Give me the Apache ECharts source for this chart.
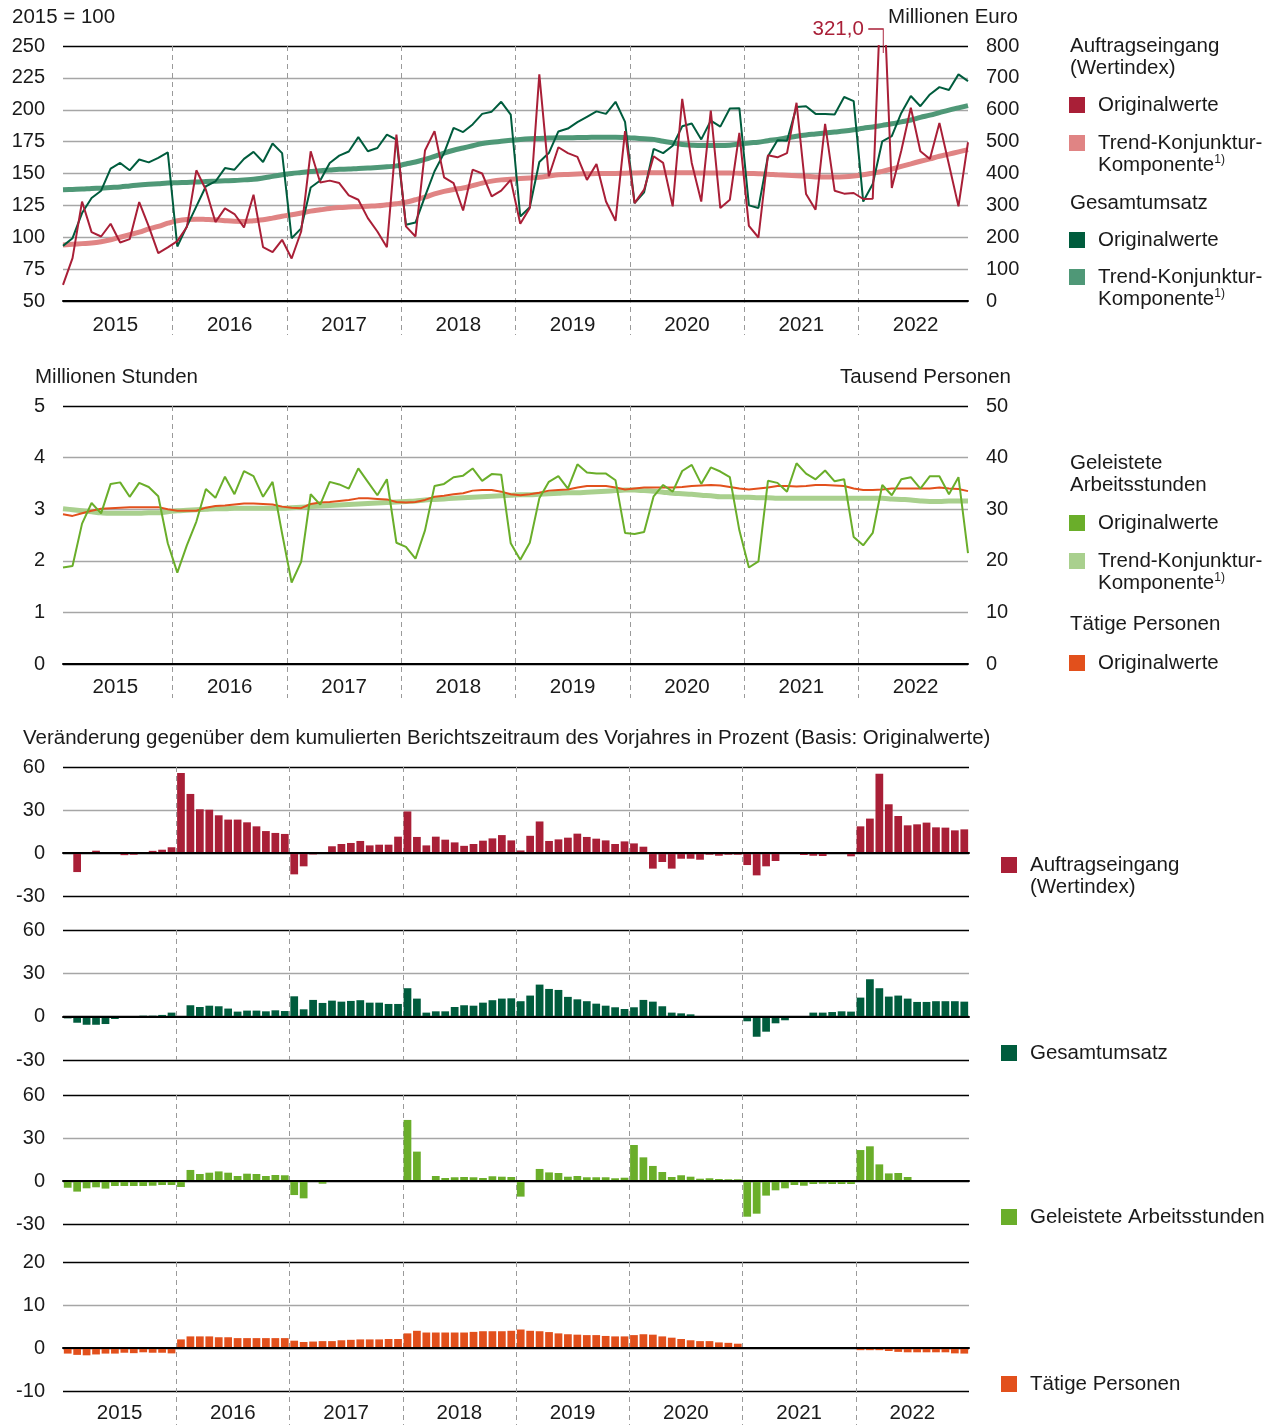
<!DOCTYPE html>
<html>
<head>
<meta charset="utf-8">
<script src="https://cdn.jsdelivr.net/npm/echarts@6.0.0/dist/echarts.min.js"></script>
<style>
  html, body { margin: 0; padding: 0; background: #fff; }
  #chart { width: 1276px; height: 1425px; }
</style>
</head>
<body>
<div id="chart"></div>
<script>
const years = ['2015', '2016', '2017', '2018', '2019', '2020', '2021', '2022']
const months = []
years.forEach(y => { for (let m = 1; m <= 12; m++) months.push(y + '-' + m) })

// Auftragseingang, Wertindex 2015 = 100
const auftragOrig = [
  62.6, 83.6, 128, 104, 100.6, 110.6, 95.9, 98.5, 127.6, 108.5, 87.5, 92,
  97, 108, 152.5, 137.3, 111.9, 122.6, 118.2, 107.7, 133.4, 92.2, 88.3, 98,
  83.3, 104.5, 167.4, 143, 144.4, 142.5, 132.8, 129.4, 115, 104.5, 92.2, 180.5,
  108.5, 100.6, 168, 183.2, 147, 142.5, 121, 153, 150, 132, 136.6, 145,
  110.6, 123, 227.7, 147.8, 170.6, 166, 163, 145, 157.5, 128, 112.9, 183.2,
  126.8, 137.3, 163.5, 158.3, 124.2, 208.6, 158.3, 128, 199.4, 122.9, 129.4, 181.8,
  109, 99.8, 164.3, 162.7, 166, 205.5, 133.9, 121.6, 188.9, 136.5, 134.2, 134.7,
  130, 130.2, 321.0, 138.6, 168, 201.5, 167.4, 161.4, 189.7, 157, 124.2, 174.5
]
const auftragTrend = [
  94, 94.5, 95, 95.5, 96.5, 98, 100, 102, 104, 106.5, 108.5, 111,
  113, 114, 114.2, 114, 113.7, 113, 112.5, 112.4, 113, 113.7, 115, 116.5,
  117.6, 119, 120.5, 121.5, 122.5, 123.3, 123.7, 124, 124.4, 124.7, 125.5, 126.3,
  127.5, 129.4, 131.5, 134, 136, 137.5, 138.6, 140.5, 142.5, 144, 145, 145.5,
  146, 146.5, 147, 148, 149, 149.3, 149.6, 149.8, 150, 150, 150, 150.2,
  150.4, 150.5, 150.5, 150.5, 150.5, 150.5, 150.5, 150.4, 150.4, 150.4, 150.4, 150.2,
  150, 149.8, 149.5, 149, 148.6, 148.2, 147.8, 147.3, 147.2, 147.2, 147.4, 148,
  149, 150.3, 151.7, 153.5, 155.6, 157.6, 159.6, 161.5, 163.5, 165.2, 167, 168.7
]
// Gesamtumsatz, Millionen Euro
const umsatzOrig = [
  173, 197, 276, 323, 346, 415, 433, 410, 444, 435, 449, 466,
  171, 234, 297, 360, 375, 417, 412, 446, 468, 436, 494, 464,
  197, 228, 356, 378, 433, 456, 469, 514, 470, 480, 522, 506,
  239, 246, 328, 407, 464, 543, 530, 554, 587, 594, 625, 585,
  265, 294, 436, 464, 532, 541, 561, 578, 595, 587, 625, 562,
  307, 341, 477, 464, 487, 548, 557, 507, 566, 547, 604, 605,
  300, 292, 454, 504, 503, 609, 611, 587, 587, 585, 640, 627,
  312, 367, 501, 517, 590, 643, 611, 648, 671, 662, 711, 690
]
const umsatzTrend = [
  349, 350, 351, 353, 354, 356, 358, 361, 364, 366, 368, 370,
  371, 372, 373, 375, 376, 377, 378, 380, 382, 386, 391, 396,
  400, 403, 406, 409, 411, 413, 414, 416, 417, 419, 421, 424,
  430, 436, 444, 454, 464, 473, 480, 487, 494, 498, 501, 504,
  507, 509, 510, 511, 512, 512, 513, 513, 514, 514, 514, 513,
  511, 509, 507, 501, 496, 491, 489, 488, 488, 488, 489, 492,
  496, 498, 503, 507, 512, 517, 521, 524, 527, 530, 533, 537,
  542, 546, 551, 556, 562, 568, 576, 583, 591, 599, 606, 613
]
// Geleistete Arbeitsstunden, Millionen Stunden
const stundenOrig = [
  1.87, 1.90, 2.72, 3.12, 2.92, 3.49, 3.52, 3.24, 3.51, 3.43, 3.25, 2.34,
  1.77, 2.30, 2.76, 3.39, 3.22, 3.63, 3.29, 3.74, 3.64, 3.24, 3.53, 2.53,
  1.58, 1.98, 3.29, 3.09, 3.53, 3.48, 3.40, 3.79, 3.53, 3.27, 3.58, 2.35,
  2.27, 2.04, 2.59, 3.45, 3.49, 3.62, 3.65, 3.79, 3.55, 3.68, 3.67, 2.34,
  2.02, 2.35, 3.21, 3.53, 3.64, 3.40, 3.87, 3.71, 3.69, 3.69, 3.56, 2.54,
  2.52, 2.56, 3.25, 3.47, 3.34, 3.74, 3.86, 3.49, 3.81, 3.73, 3.62, 2.59,
  1.87, 1.99, 3.55, 3.51, 3.34, 3.89, 3.69, 3.58, 3.75, 3.54, 3.58, 2.46,
  2.30, 2.54, 3.47, 3.27, 3.58, 3.62, 3.40, 3.64, 3.64, 3.29, 3.62, 2.15
]
const stundenTrend = [
  3.01, 2.99, 2.97, 2.95, 2.93, 2.92, 2.92, 2.92, 2.92, 2.93, 2.93, 2.95,
  2.97, 2.98, 2.99, 3.00, 3.01, 3.01, 3.02, 3.02, 3.02, 3.02, 3.02, 3.02,
  3.03, 3.04, 3.05, 3.06, 3.07, 3.08, 3.09, 3.10, 3.11, 3.12, 3.13, 3.14,
  3.15, 3.16, 3.18, 3.19, 3.20, 3.21, 3.22, 3.23, 3.24, 3.25, 3.26, 3.27,
  3.28, 3.28, 3.29, 3.30, 3.31, 3.32, 3.32, 3.33, 3.34, 3.35, 3.36, 3.37,
  3.37, 3.36, 3.35, 3.33, 3.31, 3.30, 3.29, 3.27, 3.26, 3.24, 3.24, 3.23,
  3.23, 3.22, 3.22, 3.21, 3.21, 3.21, 3.21, 3.21, 3.21, 3.21, 3.21, 3.21,
  3.21, 3.21, 3.21, 3.20, 3.19, 3.18, 3.16, 3.15, 3.15, 3.16, 3.16, 3.16
]
// Tätige Personen, Tausend
const personenOrig = [
  29.0, 28.7, 29.2, 29.7, 30.1, 30.2, 30.3, 30.4, 30.4, 30.4, 30.4, 30.0,
  29.7, 29.7, 29.7, 30.3, 30.6, 30.7, 30.9, 31.1, 31.1, 31.0, 30.9, 30.5,
  30.3, 30.2, 31.0, 31.3, 31.4, 31.6, 31.8, 32.1, 32.1, 32.0, 31.9, 31.4,
  31.3, 31.4, 31.8, 32.4, 32.6, 32.9, 33.1, 33.6, 33.7, 33.7, 33.4, 32.9,
  32.7, 32.9, 33.2, 33.6, 33.7, 33.8, 34.2, 34.5, 34.5, 34.5, 34.2, 33.8,
  34.0, 34.2, 34.2, 34.2, 34.2, 34.3, 34.5, 34.6, 34.7, 34.6, 34.3, 34.0,
  33.8, 34.0, 34.2, 34.5, 34.5, 34.4, 34.5, 34.7, 34.7, 34.6, 34.5, 34.0,
  33.7, 33.7, 33.8, 34.0, 34.0, 34.0, 34.0, 34.0, 34.2, 34.0, 33.9, 33.5
]

// Veränderung gegenüber dem kumulierten Berichtszeitraum des Vorjahres in %
const auftragChange = [
  0, -13.3, 0.5, 1.6, 0, 0, -1.5, -1.2, 0, 1.5, 2.3, 4,
  55.8, 41.2, 30.5, 30.2, 26.3, 23.3, 23.3, 21.4, 18.6, 15.3, 14, 13.3,
  -14.9, -9.3, -1, 0, 4.7, 6.3, 7, 8.4, 5.3, 5.8, 5.8, 11.4,
  29, 11.2, 5.3, 11.4, 9.3, 7.4, 5, 6.3, 8.6, 10.2, 12.5, 8.8,
  1.8, 12, 22, 8.4, 9.5, 10.7, 13.5, 11.2, 10, 8.8, 6.3, 8.1,
  6.7, 4.4, -10.9, -6.3, -10.9, -4, -4, -4.7, -1.2, -1.9, -1.2, -1.2,
  -8.4, -15.6, -9.3, -5.6, 0, 0, -1.4, -1.9, -2.1, 0, 0, -2.3,
  18.6, 24, 55.3, 34, 25.8, 19.3, 20, 21.2, 17.9, 17.7, 15.8, 16.5
]
const umsatzChange = [
  -1.2, -4.2, -5.6, -5.6, -5.1, -1.6, 0, 0, 0.7, 0.7, 1.2, 2.8,
  -0.5, 7.9, 6.7, 7.6, 7.2, 5.6, 3.5, 4.2, 4.2, 3.7, 4.4, 3.9,
  14.1, 5.1, 11.6, 9.5, 11.1, 10.4, 10.9, 11.4, 9.7, 9.7, 8.8, 8.8,
  19.7, 12.5, 2.8, 3.7, 3.7, 6.7, 7.9, 7.6, 9.7, 11.4, 12.5, 12.7,
  10.7, 14.6, 22.2, 19.2, 18.5, 13.7, 12, 10.7, 9, 7.6, 6.5, 5.3,
  6.5, 11.6, 10.4, 7.2, 2.8, 2.3, 1.6, 0, 0, 0, -0.7, 0,
  -3.2, -13.9, -10.4, -4.6, -2.5, 0, 0.3, 2.8, 2.8, 3.2, 3.7, 3.5,
  13.2, 25.9, 19.7, 13.9, 14.6, 12.5, 10.2, 10.2, 10.7, 10.7, 10.7, 10.4
]
const stundenChange = [
  -4.7, -7.4, -5.1, -4.4, -5.3, -3.5, -3.5, -3.5, -3.5, -3.3, -2.8, -2.8,
  -4.2, 7.7, 4.9, 5.8, 6.7, 5.8, 3.5, 5.1, 4.9, 3.5, 4.2, 4.0,
  -9.8, -12.1, 0, -1.9, 0, 0, 0, 0, 0, 0, 0, 0,
  42.6, 20.5, 0, 3.5, 2.1, 2.6, 2.8, 2.6, 2.1, 3.3, 3.0, 2.8,
  -10.9, 0, 8.4, 6.0, 5.6, 3.0, 3.5, 2.6, 2.6, 2.6, 1.9, 2.3,
  25.1, 16.5, 10.5, 6.3, 2.8, 4.0, 3.0, 1.6, 1.9, 1.4, 1.2, 1.2,
  -24.9, -22.8, -10.2, -6.5, -5.1, -2.8, -3.3, -2.1, -1.9, -2.1, -2.1, -2.1,
  21.6, 24.2, 11.6, 5.3, 5.6, 2.8, 0, 0, 0, 0, 0, 0
]
const personenChange = [
  -1.3, -1.6, -1.7, -1.5, -1.3, -1.3, -1.1, -1.2, -1.0, -1.1, -1.1, -1.25,
  2.0, 2.7, 2.7, 2.7, 2.5, 2.5, 2.3, 2.3, 2.3, 2.3, 2.3, 2.3,
  1.7, 1.4, 1.5, 1.6, 1.6, 1.8, 1.9, 2.0, 2.0, 2.0, 2.1, 2.1,
  3.4, 4.0, 3.6, 3.6, 3.6, 3.6, 3.6, 3.75, 3.9, 3.9, 3.9, 4.0,
  4.3, 4.0, 3.9, 3.7, 3.4, 3.2, 3.1, 3.0, 3.0, 2.8, 2.7, 2.7,
  3.0, 3.2, 3.1, 2.7, 2.4, 2.1, 1.8, 1.6, 1.6, 1.3, 1.2, 1.0,
  0, -0.2, -0.2, 0, 0, 0, 0, 0, 0, 0, 0, 0,
  -0.5, -0.5, -0.5, -0.7, -0.9, -1.0, -1.0, -1.0, -1.0, -1.0, -1.25, -1.3
]

const font = '"Liberation Sans", Arial, sans-serif'
const ink = '#1a1a1a'
const gray = '#a6a6a6'
const dash = { type: [5, 4], color: '#9a9a9a', width: 1 }
const c = {
  red: '#a91f37', redTrend: '#e08484',
  dkGreen: '#005c3d', greenTrend: '#4f9877',
  green: '#6aae2a', greenTrend2: '#a9d08e',
  orange: '#e2501c'
}

// line panels: points sit on the plot edges, so the year bands start half a month earlier
const step = 905 / 95
const grid = [
  { left: 63, top: 46, width: 905, height: 255 },
  { left: 63 - step / 2, top: 46, width: step * 96, height: 289 },
  { left: 63, top: 406, width: 905, height: 258 },
  { left: 63 - step / 2, top: 406, width: step * 96, height: 292 },
  { left: 63, top: 767, width: 906, height: 129 },
  { left: 63, top: 930, width: 906, height: 130 },
  { left: 63, top: 1095, width: 906, height: 129 },
  { left: 63, top: 1262, width: 906, height: 129 },
  { left: 63, top: 1262, width: 906, height: 163 }
]
grid.forEach(g => { g.outerBoundsMode = 'none'; g.containLabel = false })

function monthAxis(gridIndex, boundaryGap) {
  return {
    type: 'category', gridIndex: gridIndex, data: months, boundaryGap: boundaryGap, position: 'bottom',
    axisLine: { onZero: true, lineStyle: { color: '#000', width: 2 } },
    axisTick: { show: false }, axisLabel: { show: false }, z: 5
  }
}
// dashed year dividers: a month scale 0..96, lines at every twelfth month
function dividerAxis(gridIndex) {
  return {
    type: 'value', gridIndex: gridIndex, min: 0, max: months.length, interval: 12, position: 'bottom',
    axisLine: { show: false }, axisTick: { show: false }, axisLabel: { show: false },
    splitLine: { show: true, showMinLine: false, showMaxLine: false, lineStyle: dash }
  }
}
function yearAxis(gridIndex, margin) {
  return {
    type: 'category', gridIndex: gridIndex, data: years, boundaryGap: true, position: 'bottom',
    axisLine: { show: false, onZero: false }, axisTick: { show: false }, splitLine: { show: false },
    axisLabel: { inside: true, margin: margin, fontSize: 20.5, lineHeight: 22, color: ink, fontFamily: font }
  }
}
function splitColors(n) {
  const list = []
  for (let i = 0; i < n; i++) list.push(i === 0 || i === n - 1 ? '#000' : gray)
  return list
}
function valueAxis(gridIndex, min, max, interval, position, lines) {
  return {
    type: 'value', gridIndex: gridIndex, min: min, max: max, interval: interval, position: position,
    axisLine: { show: false }, axisTick: { show: false },
    axisLabel: { fontSize: 20, color: ink, fontFamily: font, margin: 18 },
    splitLine: { show: !!lines, lineStyle: { color: lines, width: 1.3 } }
  }
}
const hiddenY = (gridIndex) => ({ type: 'value', gridIndex: gridIndex, min: 0, max: 1, show: false })

const xAxis = [
  monthAxis(0, false), dividerAxis(1), yearAxis(1, -1),
  monthAxis(2, false), dividerAxis(3), yearAxis(3, 0),
  monthAxis(4, true), monthAxis(5, true), monthAxis(6, true), monthAxis(7, true),
  dividerAxis(4), dividerAxis(5), dividerAxis(6),
  dividerAxis(8), yearAxis(8, 1)
]
const barLines = ['#000', '#000', gray, '#000']
const yAxis = [
  valueAxis(0, 50, 250, 25, 'left', splitColors(9)),
  valueAxis(0, 0, 800, 100, 'right', null),
  hiddenY(1),
  valueAxis(2, 0, 5, 1, 'left', splitColors(6)),
  valueAxis(2, 0, 50, 10, 'right', null),
  hiddenY(3),
  valueAxis(4, -30, 60, 30, 'left', barLines),
  valueAxis(5, -30, 60, 30, 'left', barLines),
  valueAxis(6, -30, 60, 30, 'left', barLines),
  valueAxis(7, -10, 20, 10, 'left', barLines),
  hiddenY(8)
]

function line(name, data, x, y, color, width) {
  return {
    name: name, type: 'line', data: data, xAxisIndex: x, yAxisIndex: y,
    symbol: 'none', color: color, lineStyle: { color: color, width: width },
    smooth: width > 3 ? 0.4 : false, silent: true
  }
}
function bars(name, data, x, y, color) {
  return {
    name: name, type: 'bar', data: data, xAxisIndex: x, yAxisIndex: y,
    color: color, barCategoryGap: '18%', silent: true
  }
}

const auftragLine = line('Auftragseingang Originalwerte', auftragOrig, 0, 0, c.red, 2)
auftragLine.markPoint = {
  symbol: 'path://M0,0 L15,0 L15,24', symbolSize: [15, 24], symbolKeepAspect: false,
  symbolOffset: [-6.5, -5], silent: true,
  itemStyle: { color: 'transparent', borderColor: c.red, borderWidth: 1.2 },
  label: {
    show: true, position: 'left', distance: 4, offset: [0, -12],
    color: c.red, fontSize: 20.5, fontFamily: font,
    formatter: (p) => p.value.toFixed(1).replace('.', ',')
  },
  data: [{ coord: [months[86], 250], value: auftragOrig[86] }]
}

const series = [
  line('Gesamtumsatz Trend', umsatzTrend, 0, 1, c.greenTrend, 5),
  line('Auftragseingang Trend', auftragTrend, 0, 0, c.redTrend, 5),
  line('Gesamtumsatz Originalwerte', umsatzOrig, 0, 1, c.dkGreen, 2),
  auftragLine,
  line('Arbeitsstunden Trend', stundenTrend, 3, 3, c.greenTrend2, 5),
  line('Tätige Personen Originalwerte', personenOrig, 3, 4, c.orange, 2),
  line('Arbeitsstunden Originalwerte', stundenOrig, 3, 3, c.green, 2),
  bars('Auftragseingang Veränderung', auftragChange, 6, 6, c.red),
  bars('Gesamtumsatz Veränderung', umsatzChange, 7, 7, c.dkGreen),
  bars('Arbeitsstunden Veränderung', stundenChange, 8, 8, c.green),
  bars('Tätige Personen Veränderung', personenChange, 9, 9, c.orange)
]

// one legend per entry, placed by the centre of its square
const trendText = 'Trend-Konjunktur-\nKomponente{sup|1)}'
function legendItem(name, text, left, iconY, twoLine) {
  return {
    data: [{ name: name, icon: 'rect' }], left: left, top: twoLine ? iconY - 33 : iconY - 11,
    padding: 0, itemWidth: 16, itemHeight: 16, selectedMode: false,
    itemStyle: { borderWidth: 0 },
    formatter: () => text,
    textStyle: {
      fontSize: 20.5, color: ink, fontFamily: font, lineHeight: 22,
      padding: twoLine ? [22, 0, 0, 8] : [0, 0, 0, 8],
      rich: { sup: { fontSize: 12, lineHeight: 12, verticalAlign: 'top', fontFamily: font, color: ink } }
    }
  }
}
const legend = [
  legendItem('Auftragseingang Originalwerte', 'Originalwerte', 1069, 105, false),
  legendItem('Auftragseingang Trend', trendText, 1069, 143, true),
  legendItem('Gesamtumsatz Originalwerte', 'Originalwerte', 1069, 240, false),
  legendItem('Gesamtumsatz Trend', trendText, 1069, 277, true),
  legendItem('Arbeitsstunden Originalwerte', 'Originalwerte', 1069, 523, false),
  legendItem('Arbeitsstunden Trend', trendText, 1069, 561, true),
  legendItem('Tätige Personen Originalwerte', 'Originalwerte', 1069, 663, false),
  legendItem('Auftragseingang Veränderung', 'Auftragseingang\n(Wertindex)', 1001, 865, true),
  legendItem('Gesamtumsatz Veränderung', 'Gesamtumsatz', 1001, 1053, false),
  legendItem('Arbeitsstunden Veränderung', 'Geleistete Arbeitsstunden', 1001, 1217, false),
  legendItem('Tätige Personen Veränderung', 'Tätige Personen', 1001, 1384, false)
]

function text(t, pos) {
  return Object.assign({
    text: t, padding: 0,
    textStyle: { fontSize: 20.5, fontWeight: 'normal', color: ink, fontFamily: font, lineHeight: 22 }
  }, pos)
}
const title = [
  text('2015 = 100', { left: 12, top: 6 }),
  text('Millionen Euro', { right: 258, top: 6 }),
  text('Auftragseingang\n(Wertindex)', { left: 1070, top: 35 }),
  text('Gesamtumsatz', { left: 1070, top: 192 }),
  text('Millionen Stunden', { left: 35, top: 366 }),
  text('Tausend Personen', { right: 265, top: 366 }),
  text('Geleistete\nArbeitsstunden', { left: 1070, top: 452 }),
  text('Tätige Personen', { left: 1070, top: 613 }),
  text('Veränderung gegenüber dem kumulierten Berichtszeitraum des Vorjahres in Prozent (Basis: Originalwerte)', { left: 23, top: 727 })
]

const chart = echarts.init(document.getElementById('chart'), null, { renderer: 'canvas' })
chart.setOption({
  animation: false,
  backgroundColor: '#ffffff',
  textStyle: { fontFamily: font },
  title: title,
  legend: legend,
  grid: grid,
  xAxis: xAxis,
  yAxis: yAxis,
  series: series
})
</script>
</body>
</html>
